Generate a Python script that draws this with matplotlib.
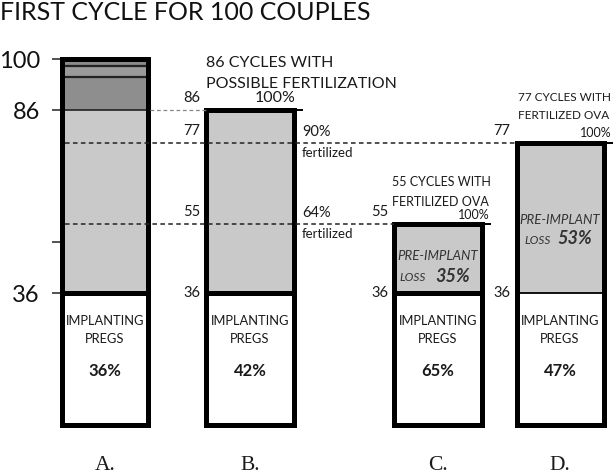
import matplotlib
matplotlib.use("Agg")
import matplotlib.pyplot as plt

plt.rcParams['font.family'] = ['Lato', 'DejaVu Sans']

# ---------------- data ----------------
bar_names = ["A.", "B.", "C.", "D."]
bar_tops = [100, 86, 55, 77]
implant_level = 36
implant_pct = ["36%", "42%", "65%", "47%"]
# stacked grey segments of bar A above 86
a_top_segments = [(86, 95), (95, 98), (98, 100)]
a_top_colors = ["#8e8e8e", "#9a9a9a", "#8a8a8a"]
y_ticks = [36, 50, 86, 100]
y_tick_labels = ["36", "", "86", "100"]
fert_levels = [77, 55]
fert_pct = ["90%", "64%"]
loss_pct = {"C.": "35%", "D.": "53%"}

# ---------------- layout ----------------
W, H = 616, 475
fig = plt.figure(figsize=(W / 100, H / 100), dpi=100)
y0_px, y100_px = 425, 59
ax = fig.add_axes([62 / W, (H - y0_px) / H, (W - 62) / W, (y0_px - y100_px) / H])
ax.set_xlim(62, 616)
ax.set_ylim(0, 100)
for s in ax.spines.values():
    s.set_visible(False)
ax.set_xticks([])
ax.set_yticks(y_ticks)
ax.set_yticklabels(y_tick_labels, fontsize=17, color="#111111")
ax.tick_params(axis="y", length=7, width=1.2, color="#333333", pad=9)

centers = [105, 250, 438, 560]
widths = [86, 88, 88, 87]
fill = "#c9c9c9"
txt = "#1a1a1a"
blw = 3.6

for i, name in enumerate(bar_names):
    cx, w, top = centers[i], widths[i], bar_tops[i]
    left, right = cx - w / 2, cx + w / 2
    # white implanting part and grey part
    ax.bar(cx, implant_level, width=w, bottom=0, color="white", linewidth=0)
    grey_top = 86 if name == "A." else top
    ax.bar(cx, grey_top - implant_level, width=w, bottom=implant_level, color=fill, linewidth=0)
    if name == "A.":
        for (b, t), c in zip(a_top_segments, a_top_colors):
            ax.bar(cx, t - b, width=w, bottom=b, color=c, linewidth=0)
        for (b, t) in a_top_segments:
            ax.hlines(b, left, right, color="#222222", lw=1.6 if b != 86 else 1.2, zorder=3)
    # border
    ax.bar(cx, top, width=w, bottom=0, fill=False, edgecolor="black", linewidth=blw,
           zorder=4, clip_on=False)
    ax.hlines(implant_level, left, right, color="black",
              lw=1.3 if name == "D." else blw, zorder=4)
    # implanting text
    ax.text(cx, 28.5, "IMPLANTING", ha="center", va="center", fontsize=9.3, color=txt)
    ax.text(cx, 23.6, "PREGS", ha="center", va="center", fontsize=9.3, color=txt)
    ax.text(cx, 14.8, implant_pct[i], ha="center", va="center", fontsize=12,
            fontweight="bold", color=txt)
    # bottom label
    fig.text(cx / W, 1 - 465 / H, name, ha="center", va="center", fontsize=15.5,
             family="Liberation Serif", color=txt)

# dashed fertilization lines
ax.hlines(77, 65, centers[3] - widths[3] / 2, colors="#222222", linestyles=(0, (3, 2.2)), lw=1.1, zorder=5)
ax.hlines(55, 65, centers[2] - widths[2] / 2, colors="#222222", linestyles=(0, (3, 2.2)), lw=1.1, zorder=5)
ax.hlines(86, 150, centers[1] - widths[1] / 2, colors="#888888", linestyles=(0, (3, 2.2)), lw=0.9, zorder=5)

# level numbers to the left of bars
def lvl(x, y, s, dy=3.3):
    ax.text(x, y + dy, s, ha="right", va="center", fontsize=10.5, color=txt)

bl = centers[1] - widths[1] / 2
lvl(bl - 6, 86, "86")
lvl(bl - 6, 77, "77")
lvl(bl - 6, 55, "55")
lvl(bl - 6, 36, "36", dy=0)
cl = centers[2] - widths[2] / 2
lvl(cl - 6, 55, "55")
lvl(cl - 6, 36, "36", dy=0)
dl = centers[3] - widths[3] / 2
lvl(dl - 6, 77, "77")
lvl(dl - 6, 36, "36", dy=0)

# 100% marks with short line extension
for i in (1, 2, 3):
    right = centers[i] + widths[i] / 2
    ax.hlines(bar_tops[i], right, right + 9, colors="black", lw=1.4, clip_on=False)
br = centers[1] + widths[1] / 2
ax.text(br + 2, 86 + 3.3, "100%", ha="right", va="center", fontsize=11.5, color=txt)
cr = centers[2] + widths[2] / 2
ax.text(cr + 8, 55 + 2.5, "100%", ha="right", va="center", fontsize=9, color=txt)
dr = centers[3] + widths[3] / 2
ax.text(dr + 8, 77 + 2.8, "100%", ha="right", va="center", fontsize=9, color=txt)

# fertilized percentages
for lv, p in zip(fert_levels, fert_pct):
    ax.text(br + 8, lv + 3.0, p, ha="left", va="center", fontsize=10.5, color=txt)
    ax.text(br + 8, lv - 2.8, "fertilized", ha="left", va="center", fontsize=9.5, color=txt)

# headings
ax.text(206, 98.8, "86 CYCLES WITH", ha="left", va="center", fontsize=11.5, color=txt, clip_on=False)
ax.text(206, 93.2, "POSSIBLE FERTILIZATION", ha="left", va="center", fontsize=11.5, color=txt)
ax.text(392, 66.3, "55 CYCLES WITH", ha="left", va="center", fontsize=9, color=txt)
ax.text(392, 60.8, "FERTILIZED OVA", ha="left", va="center", fontsize=9, color=txt)
ax.text(518, 89.4, "77 CYCLES WITH", ha="left", va="center", fontsize=8.5, color=txt)
ax.text(518, 84.5, "FERTILIZED OVA", ha="left", va="center", fontsize=8.5, color=txt)

# pre-implant loss labels
ax.text(centers[2], 46.2, "PRE-IMPLANT", ha="center", va="center", fontsize=9.5,
        style="italic", color="#333333")
ax.text(centers[2] - 25, 40.2, "LOSS", ha="center", va="center", fontsize=8.5,
        style="italic", color="#333333")
ax.text(centers[2] + 15, 40.6, loss_pct["C."], ha="center", va="center", fontsize=13,
        style="italic", fontweight="bold", color="#333333")
ax.text(centers[3], 56.0, "PRE-IMPLANT", ha="center", va="center", fontsize=9.5,
        style="italic", color="#333333")
ax.text(centers[3] - 22, 50.5, "LOSS", ha="center", va="center", fontsize=8.5,
        style="italic", color="#333333")
ax.text(centers[3] + 15, 50.9, loss_pct["D."], ha="center", va="center", fontsize=13,
        style="italic", fontweight="bold", color="#333333")

# title
fig.text(0.0, 1 - 13 / H, "FIRST CYCLE FOR 100 COUPLES", ha="left", va="center",
         fontsize=18, color="#111111")

fig.savefig("out.png", dpi=100)
